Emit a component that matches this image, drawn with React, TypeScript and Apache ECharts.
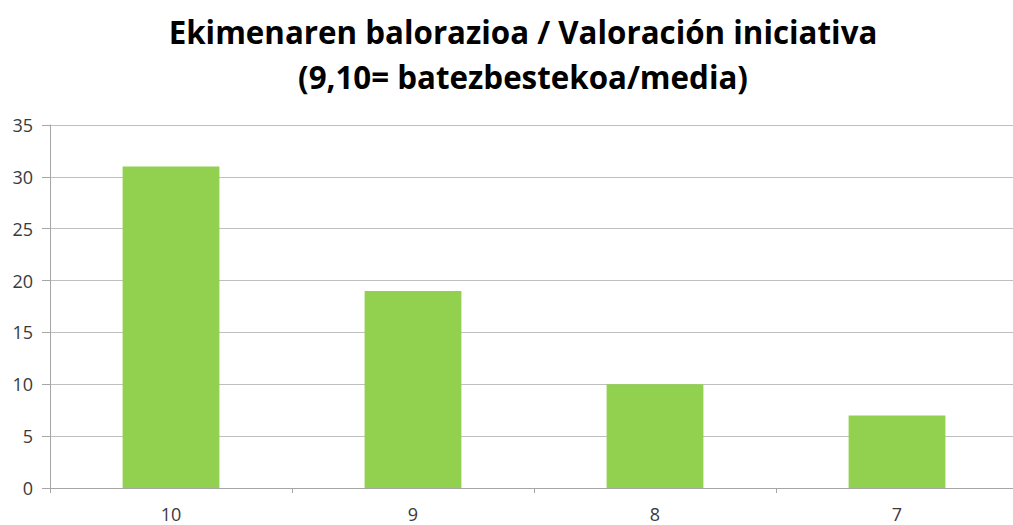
import React, { useEffect, useRef } from "react";
import * as echarts from "echarts";

const titleText = "Ekimenaren balorazioa / Valoración iniciativa\n(9,10= batezbestekoa/media)";
const categories = ["10", "9", "8", "7"];
const values = [31, 19, 10, 7];
const yMin = 0;
const yMax = 35;
const yInterval = 5;

export default function App() {
  const ref = useRef<HTMLDivElement>(null);
  useEffect(() => {
    if (!ref.current) return;
    const chart = echarts.init(ref.current, null, { renderer: "svg" });
    chart.setOption({
      animation: false,
      backgroundColor: "#ffffff",
      title: {
        text: titleText,
        left: 518,
        textAlign: "center",
        top: 4,
        textStyle: {
          fontFamily: "Open Sans",
          fontWeight: "bold",
          fontSize: 31.3,
          lineHeight: 45,
          color: "#000000",
        },
      },
      grid: {
        left: 50,
        width: 968,
        top: 125,
        bottom: 37,
        containLabel: false,
        outerBoundsMode: "none",
      },
      xAxis: {
        type: "category",
        data: categories,
        axisLine: { lineStyle: { color: "#a6a6a6", width: 1 } },
        axisTick: { show: true, length: 5, lineStyle: { color: "#a6a6a6" } },
        axisLabel: { color: "#3a3a3a", fontSize: 18, fontFamily: "Open Sans", margin: 17 },
      },
      yAxis: {
        type: "value",
        min: yMin,
        max: yMax,
        interval: yInterval,
        axisLine: { show: true, lineStyle: { color: "#a6a6a6", width: 1 } },
        axisTick: { show: true, length: 8, lineStyle: { color: "#a6a6a6" } },
        axisLabel: { color: "#3a3a3a", fontSize: 18, fontFamily: "Open Sans", margin: 17 },
        splitLine: { lineStyle: { color: "#bfbfbf", width: 1 } },
      },
      series: [
        {
          type: "bar",
          data: values,
          barWidth: "40%",
          barCategoryGap: "60%",
          itemStyle: { color: "#92d050" },
        },
      ],
    });
    return () => chart.dispose();
  }, []);
  return (
    <div
      ref={ref}
      style={{ position: "absolute", left: 0, top: 0, width: 1013, height: 525 }}
    />
  );
}
